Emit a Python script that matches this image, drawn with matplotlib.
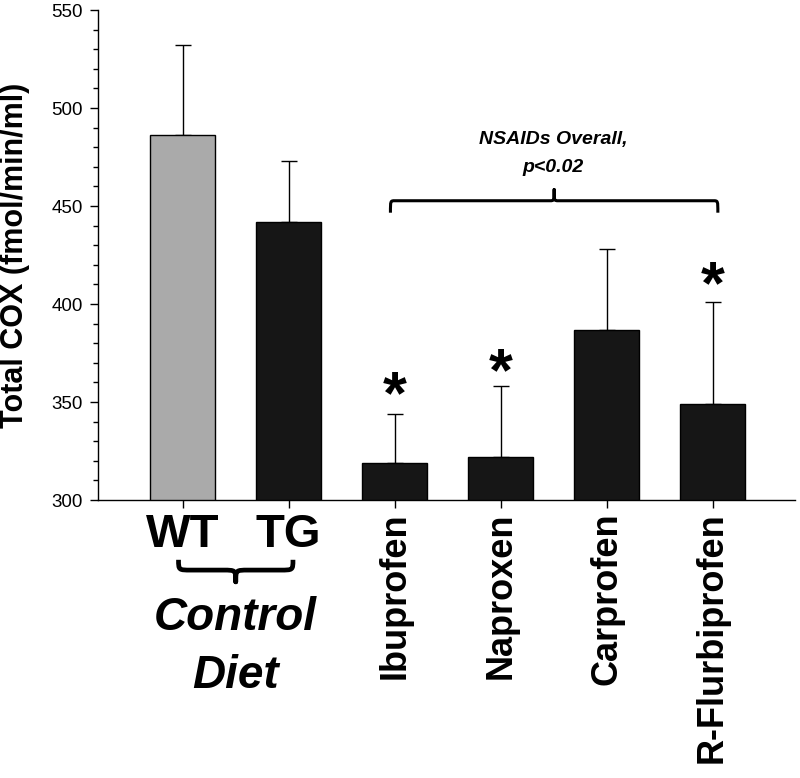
import numpy as np
import matplotlib.pyplot as plt
from matplotlib.path import Path
from matplotlib.patches import PathPatch
from matplotlib import font_manager
import matplotlib.transforms as mtransforms

# datos
groups = ['WT', 'TG', 'Ibuprofen', 'Naproxen', 'Carprofen', 'R-Flurbiprofen']
means = [486, 442, 319, 322, 387, 349]
sem = [46, 31, 25, 36, 41, 52]
colors = ['#aaaaaa', '#161616', '#161616', '#161616', '#161616', '#161616']
signif = [False, False, True, True, False, True]
star_y = [None, None, 357.5, 369, None, 413.5]

# fuente estrecha para el texto del corchete, si existe
try:
    font_manager.findfont('Liberation Sans Narrow', fallback_to_default=False)
    narrow, narrow_size = 'Liberation Sans Narrow', 17
except Exception:
    narrow, narrow_size = 'Liberation Sans', 14

plt.rcParams['font.family'] = ['Liberation Sans', 'DejaVu Sans']


def brace(ax, x0, x1, y_end, y_mid, y_tip, r, transform, lw):
    # llave con punta en el centro
    xc = (x0 + x1) / 2
    verts = [(x0, y_end),
             (x0, y_mid), (x0, y_mid), (x0 + r, y_mid),
             (xc - r, y_mid),
             (xc, y_mid), (xc, y_mid), (xc, y_tip),
             (xc, y_mid), (xc, y_mid), (xc + r, y_mid),
             (x1 - r, y_mid),
             (x1, y_mid), (x1, y_mid), (x1, y_end)]
    codes = [Path.MOVETO] + [Path.CURVE4] * 3 + [Path.LINETO] + [Path.CURVE4] * 6 \
        + [Path.LINETO] + [Path.CURVE4] * 3
    patch = PathPatch(Path(verts, codes), facecolor='none', edgecolor='black',
                      lw=lw, transform=transform, clip_on=False,
                      capstyle='butt', joinstyle='round')
    ax.add_patch(patch)


fig = plt.figure(figsize=(8, 7.78), dpi=100)
ax = fig.add_axes([0.1225, 0.3573, 0.8715, 0.6298])

x = np.arange(len(groups))
ax.bar(x, means, width=0.61, color=colors, edgecolor='black', linewidth=1.0, zorder=2)
ax.errorbar(x, means, yerr=[np.zeros(len(sem)), sem], fmt='none', ecolor='black',
            elinewidth=1.0, capsize=5.5, capthick=1.0, zorder=1)

# asteriscos: star_y es el centro del glifo
star_size = 44
star_tr = mtransforms.offset_copy(ax.transData, fig=fig, y=-0.42 * star_size, units='points')
for xi, s, sy in zip(x, signif, star_y):
    if s:
        ax.text(xi, sy, '*', ha='center', va='baseline', fontsize=star_size,
                fontweight='bold', transform=star_tr)

ax.set_xlim(-0.8, 5.78)
ax.set_ylim(300, 550)
ax.set_yticks(np.arange(300, 551, 50))
ax.set_yticks(np.arange(300, 551, 10), minor=True)
ax.spines['top'].set_visible(False)
ax.spines['right'].set_visible(False)
ax.spines['left'].set_linewidth(1.0)
ax.spines['bottom'].set_linewidth(1.0)
ax.tick_params(axis='y', which='major', length=6, width=1.0, labelsize=13.5, pad=5)
ax.tick_params(axis='y', which='minor', length=3.5, width=1.0)
ax.tick_params(axis='x', which='major', length=6, width=1.0, pad=3)

ax.set_xticks(x)
ax.set_xticklabels(groups)
for i, lab in enumerate(ax.get_xticklabels()):
    lab.set_fontweight('bold')
    if i < 2:
        lab.set_fontsize(34)
    else:
        lab.set_fontsize(26)
        lab.set_rotation(90)
        lab.set_va('top')
        lab.set_ha('center')

ax.set_ylabel('Total COX (fmol/min/ml)', fontsize=22, fontweight='bold')
ax.yaxis.set_label_coords(-0.0976, 0.5)

# llave de la dieta control
blend = mtransforms.blended_transform_factory(ax.transData, ax.transAxes)
brace(ax, -0.04, 1.04, -0.122, -0.143, -0.167, 0.12, blend, 3.4)
ax.text(0.5, -0.265, 'Control', transform=blend, ha='center', va='baseline',
        fontsize=33, fontweight='bold', fontstyle='italic')
ax.text(0.5, -0.384, 'Diet', transform=blend, ha='center', va='baseline',
        fontsize=33, fontweight='bold', fontstyle='italic')

# corchete de los AINEs
brace(ax, 2 - 0.04, 5 + 0.05, 446.6, 452.7, 458.4, 0.04, ax.transData, 2.2)
ax.text(3.495, 484, 'NSAIDs Overall,', ha='center', va='center',
        fontsize=narrow_size, fontweight='bold', fontstyle='italic', family=narrow)
ax.text(3.495, 469.6, 'p<0.02', ha='center', va='center',
        fontsize=narrow_size, fontweight='bold', fontstyle='italic', family=narrow)

fig.savefig('out.png', dpi=100)
